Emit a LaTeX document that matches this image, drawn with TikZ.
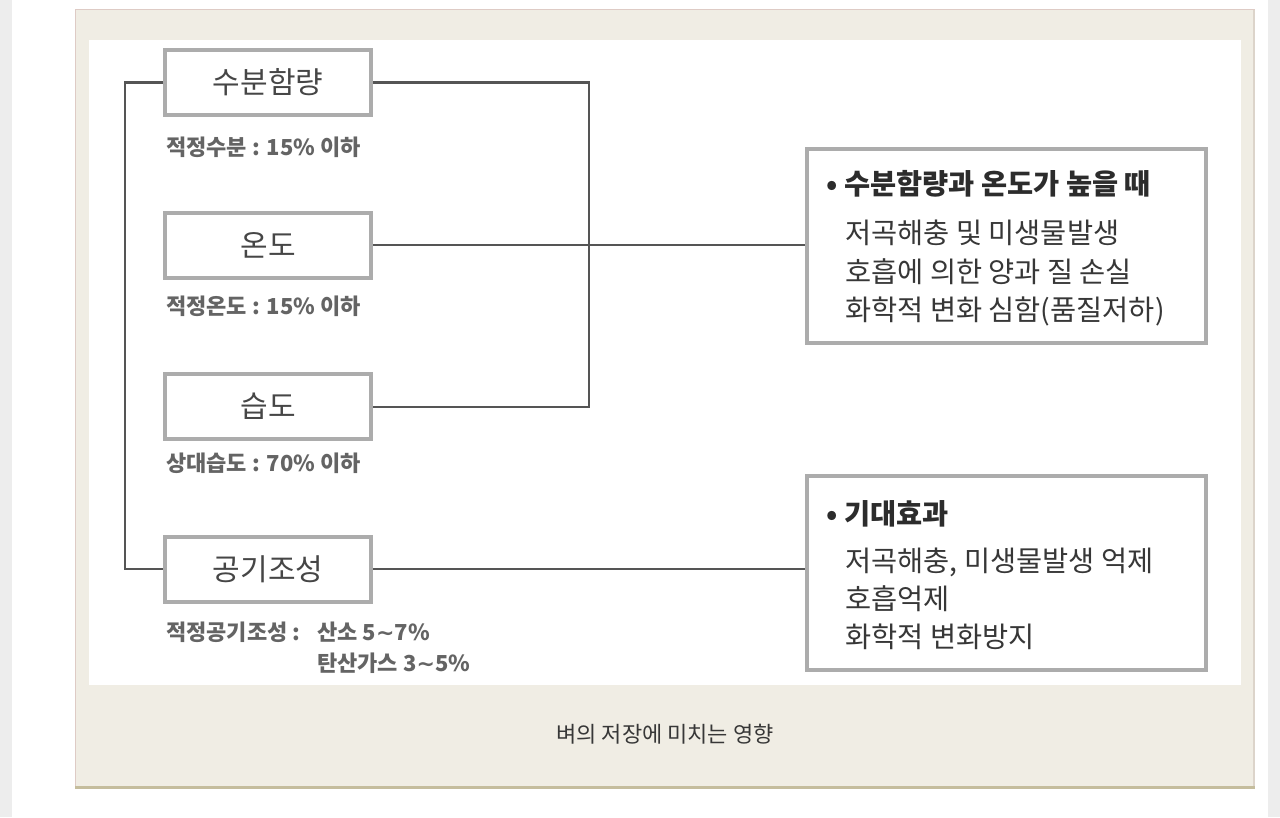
\documentclass[tikz,border=0pt]{standalone}
\usepackage{fontspec}
\setmainfont{Noto Sans CJK KR}
\newfontfamily\symfont{DejaVu Sans}
\newcommand{\wave}{{\symfont ∼}}
\usetikzlibrary{positioning, calc}
\definecolor{pagegray}{RGB}{237, 237, 237}
\definecolor{panelbg}{RGB}{240, 237, 228}
\definecolor{paneltop}{RGB}{222, 203, 197}
\definecolor{panelright}{RGB}{220, 212, 202}
\definecolor{panelbottom}{RGB}{197, 189, 157}
\definecolor{boxgray}{RGB}{172, 172, 172}
\definecolor{linegray}{RGB}{85, 85, 85}
\definecolor{labeltext}{RGB}{70, 70, 70}
\definecolor{notetext}{RGB}{100, 100, 100}
\definecolor{bodytext}{RGB}{55, 55, 55}

\begin{document}
\begin{tikzpicture}[
    x=0.75pt, y=-0.75pt,
    % 요인 상자
    factor/.style={
        rectangle, draw=boxgray, line width=3pt, fill=white,
        minimum width=154.5pt, minimum height=48.75pt,
        inner sep=0pt, align=center,
        font=\fontsize{22.5pt}{26pt}\selectfont, text=labeltext
    },
    % 적정 조건
    note/.style={
        anchor=base west, inner sep=0pt,
        font=\fontsize{16.5pt}{20pt}\selectfont\bfseries, text=notetext
    },
    % 결과 상자
    effect/.style={
        rectangle, draw=boxgray, line width=3pt, fill=white,
        minimum width=299.25pt, minimum height=145.5pt, inner sep=0pt
    },
    heading/.style={
        anchor=base west, inner sep=0pt,
        font=\fontsize{21.3pt}{25pt}\selectfont\bfseries, text=bodytext!80!black
    },
    item/.style={
        anchor=base west, inner sep=0pt,
        font=\fontsize{21.3pt}{25pt}\selectfont, text=bodytext
    },
    % 연결선
    link/.style={draw=linegray, line width=1.5pt},
]

% ==================== 배경 ====================
\useasboundingbox (0,0) rectangle (1280,817);
\fill[white] (0,0) rectangle (1280,817);
\fill[pagegray] (0,0) rectangle (12,817);
\fill[pagegray] (1268,0) rectangle (1280,817);
\fill[panelbg] (75,9) rectangle (1255,788);
\draw[paneltop, line width=0.75pt] (75,788) -- (75,9.5) -- (1255,9.5);
\draw[panelright, line width=1.5pt] (1254,10) -- (1254,786);
\draw[panelbottom, line width=2.25pt] (75,787) -- (1255,787);
\fill[white] (89,40) rectangle (1241,685);

% ==================== 요인 ====================
\node[factor] (moist) at (268,82.5) {수분함량};
\node[factor] (temp)  at (268,245)  {온도};
\node[factor] (humid) at (268,406.5) {습도};
\node[factor] (air)   at (268,569)  {공기조성};

\node[note] (moistnote) at (166,155) {적정수분 : 15\% 이하};
\node[note] (tempnote)  at (166,314) {적정온도 : 15\% 이하};
\node[note] (humidnote) at (166,471) {상대습도 : 70\% 이하};
\node[note] (airnote)   at (166,640) {적정공기조성 :};
\node[note] (oxygen)    at (317,640) {산소 5\wave7\%};
\node[note] (carbon)    at ($(oxygen.base west)+(0,31)$) {탄산가스 3\wave5\%};

% ==================== 결과 ====================
\node[effect] (risk)    at (1006.5,245.5) {};
\node[effect] (benefit) at (1006.5,572.5) {};

\node[heading] (riskhead) at (826,194) {• 수분함량과 온도가 높을 때};
\node[item] (riskone)   at (845,243) {저곡해충 및 미생물발생};
\node[item] (risktwo)   at (845,282) {호흡에 의한 양과 질 손실};
\node[item] (riskthree) at (845,320) {화학적 변화 심함(품질저하)};

\node[heading] (benefithead) at (826,524) {• 기대효과};
\node[item] (benefitone)   at (845,571) {저곡해충, 미생물발생 억제};
\node[item] (benefittwo)   at (845,609) {호흡억제};
\node[item] (benefitthree) at (845,647) {화학적 변화방지};

% ==================== 연결선 ====================
\coordinate (join) at (589,245);
\draw[link] (moist.west) -- ++(-38,0) |- (air.west);
\draw[link] (moist.east) -| (join) |- (humid.east);
\draw[link] (temp.east) -- (temp.east -| risk.west);
\draw[link] (air.east) -- (air.east -| benefit.west);

% ==================== 캡션 ====================
\node[anchor=base, inner sep=0pt, font=\fontsize{16.5pt}{20pt}\selectfont, text=bodytext] (caption) at (665,742.5) {벼의 저장에 미치는 영향};

\end{tikzpicture}
\end{document}
